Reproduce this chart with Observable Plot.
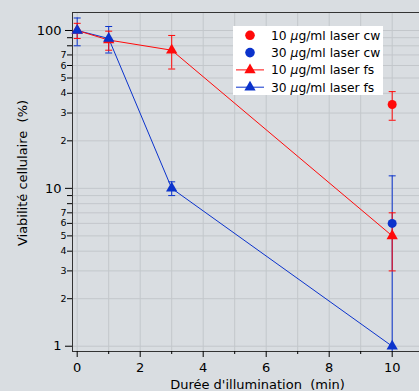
<!DOCTYPE html>
<html><head><meta charset="utf-8">
<script src="https://cdn.jsdelivr.net/npm/d3@7"></script>
<script src="https://cdn.jsdelivr.net/npm/@observablehq/plot@0.6"></script>
<style>
html,body{margin:0;padding:0;background:#d9dde1;}
#wrap{position:relative;width:419px;height:391px;overflow:hidden;}
#wrap svg{display:block;}
#legend{position:absolute;left:233px;top:26px;}
</style></head><body><div id="wrap"></div>
<script>
// ---- data ----
const times = [0, 1, 3, 10];
const fs10 = [100, 87, 75, 5];
const fs10err = [11, 12, 18, 2];
const fs30 = [100, 89, 10, 1];
const fs30err = [20, 17, 1, 0];
const cwTimes = [10];
const cw10 = [34];
const cw10err = [7];
const cw30 = [6];
const cw30err = [6];
const seriesNames = ["10 µg/ml laser cw", "30 µg/ml laser cw", "10 µg/ml laser fs", "30 µg/ml laser fs"];
const xMajorTicks = [0, 2, 4, 6, 8, 10];
const xMinorTicks = [1, 3, 5, 7, 9];
const yMajorTicks = [1, 10, 100];
const yMinorTicks = [2, 3, 4, 5, 6, 7, 8, 9, 20, 30, 40, 50, 60, 70, 80, 90];
const yMinorLabels = ["2", "3", "4", "5", "6", "7", "", "", "2", "3", "4", "5", "6", "7", "", ""];
const xTitle = "Durée d'illumination  (min)";
const yTitle = "Viabilité cellulaire  (%)";

const RED = "#ff0a0a", BLUE = "#0b33cc";
const yDomain = [0.926, 130];
const xDomain = [-0.149, 10.867];

function rows(xs, vs, es, series, color) {
  return xs.map((t, i) => ({t, v: vs[i], err: es[i], lo: Math.max(vs[i] - es[i], yDomain[0]), rawLo: vs[i] - es[i], hi: vs[i] + es[i], series, color}));
}
const cw10Rows = rows(cwTimes, cw10, cw10err, seriesNames[0], RED);
const cw30Rows = rows(cwTimes, cw30, cw30err, seriesNames[1], BLUE);
const fs10Rows = rows(times, fs10, fs10err, seriesNames[2], RED);
const fs30Rows = rows(times, fs30, fs30err, seriesNames[3], BLUE);
const minorLabelRows = yMinorTicks.map((v, i) => ({v, label: yMinorLabels[i]})).filter(d => d.label);

const capSymbol = {draw(ctx) { ctx.moveTo(-3.5, 0); ctx.lineTo(3.5, 0); }};

function errMarks(data, color) {
  const d = data.filter(r => r.err > 0);
  return [
    Plot.ruleX(d, {x: "t", y1: "lo", y2: "hi", stroke: color, strokeWidth: 1}),
    Plot.dot(d, {x: "t", y: "hi", symbol: capSymbol, stroke: color, fill: "none", strokeWidth: 1}),
    Plot.dot(d.filter(r => r.rawLo > 0), {x: "t", y: "lo", symbol: capSymbol, stroke: color, fill: "none", strokeWidth: 1})
  ];
}

const GRID = "#c3c7cb";
const plot = Plot.plot({
  width: 419, height: 391,
  marginTop: 12, marginLeft: 72, marginRight: 0, marginBottom: 40,
  style: {background: "transparent", fontFamily: "DejaVu Sans", color: "#000"},
  x: {domain: xDomain, label: null},
  y: {type: "log", domain: yDomain, label: null},
  marks: [
    Plot.gridX(d3.range(0, 11), {stroke: GRID, strokeOpacity: 1}),
    Plot.gridY([...yMajorTicks, ...yMinorTicks], {stroke: GRID, strokeOpacity: 1}),
    Plot.frame({anchor: "left", stroke: "#333"}),
    Plot.frame({anchor: "top", stroke: "#333"}),
    Plot.frame({anchor: "bottom", stroke: "#333"}),
    Plot.axisY(yMajorTicks, {tickSize: 7, tickPadding: 4, fontSize: 13, tickFormat: d => String(d), label: null}),
    Plot.axisY(yMinorTicks, {tickSize: 5, tickFormat: () => "", label: null}),
    Plot.text(minorLabelRows, {y: "v", text: "label", frameAnchor: "left", textAnchor: "end", dx: -6, fontSize: 9.5}),
    Plot.axisX(xMajorTicks, {tickSize: 6, tickPadding: 5, fontSize: 13, label: null}),
    Plot.axisX(xMinorTicks, {tickSize: 3, tickFormat: () => "", label: null}),
    ...errMarks(cw30Rows, BLUE),
    ...errMarks(fs30Rows, BLUE),
    ...errMarks(cw10Rows, RED),
    ...errMarks(fs10Rows, RED),
    Plot.line(fs30Rows, {x: "t", y: "v", stroke: BLUE, strokeWidth: 1}),
    Plot.line(fs10Rows, {x: "t", y: "v", stroke: RED, strokeWidth: 1}),
    Plot.dot(fs10Rows, {x: "t", y: "v", symbol: "triangle", r: 4.2, fill: RED, stroke: "none"}),
    Plot.dot(fs30Rows, {x: "t", y: "v", symbol: "triangle", r: 4.2, fill: BLUE, stroke: "none"}),
    Plot.dot(cw10Rows, {x: "t", y: "v", r: 4.5, fill: RED, stroke: "none"}),
    Plot.dot(cw30Rows, {x: "t", y: "v", r: 4.5, fill: BLUE, stroke: "none"}),
    Plot.text([yTitle], {frameAnchor: "left", textAnchor: "middle", rotate: -90, dx: -50, dy: -9, fontSize: 13}),
    Plot.text([xTitle], {frameAnchor: "bottom", dx: 11.5, dy: 37, fontSize: 13})
  ]
});
const wrap = document.getElementById("wrap");
wrap.appendChild(plot);

// ---- legend ----
const legendItems = [
  {name: seriesNames[0], color: RED, kind: "circle"},
  {name: seriesNames[1], color: BLUE, kind: "circle"},
  {name: seriesNames[2], color: RED, kind: "triangle"},
  {name: seriesNames[3], color: BLUE, kind: "triangle"}
];
const lw = 150, lh = 69;
const lg = d3.create("svg").attr("id", "legend").attr("width", lw).attr("height", lh)
  .style("font-family", "DejaVu Sans").style("font-size", "12.3px");
lg.append("rect").attr("width", lw).attr("height", lh).attr("fill", "#fff");
legendItems.forEach((it, i) => {
  const cy = 9.3 + i * 17.3;
  const g = lg.append("g").attr("transform", `translate(0,${cy})`);
  if (it.kind === "circle") {
    g.append("circle").attr("cx", 17).attr("cy", 0).attr("r", 4.8).attr("fill", it.color);
  } else {
    g.append("line").attr("x1", 3).attr("x2", 31).attr("y1", 0).attr("y2", 0).attr("stroke", it.color).attr("stroke-width", 1);
    g.append("path").attr("transform", "translate(17,0)").attr("d", d3.symbol(d3.symbolTriangle, 55)()).attr("fill", it.color);
  }
  const parts = it.name.split("µ");
  const t = g.append("text").attr("x", 38).attr("y", 0).attr("dy", "0.35em").attr("fill", "#000");
  t.append("tspan").text(parts[0]);
  t.append("tspan").attr("font-style", "italic").text("µ");
  t.append("tspan").text(parts[1]);
});
wrap.appendChild(lg.node());
</script>
</body></html>
